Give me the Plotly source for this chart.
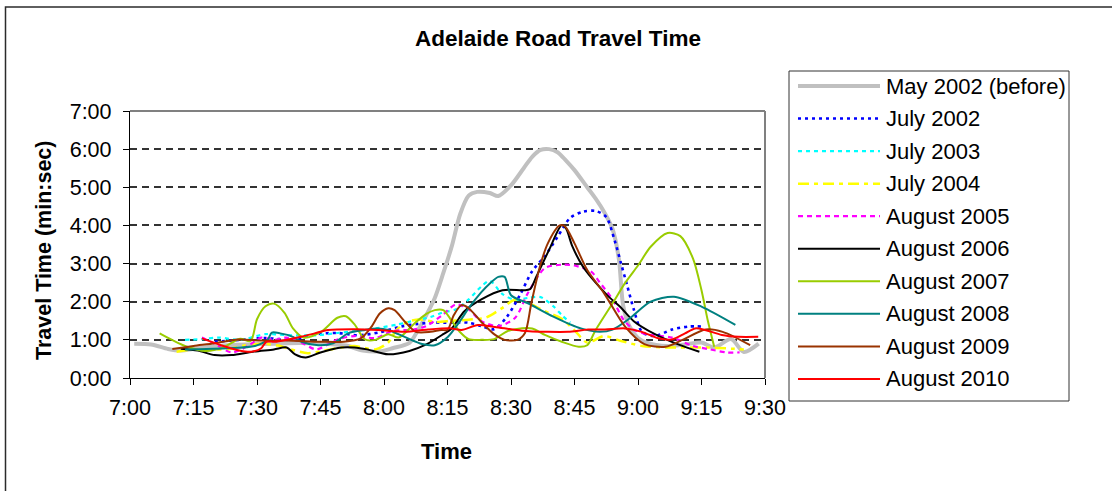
import plotly.graph_objects as go

# ---- data: minutes after 7:00 and travel time in minutes ----
series_names = [
    "May 2002 (before)", "July 2002", "July 2003", "July 2004", "August 2005",
    "August 2006", "August 2007", "August 2008", "August 2009", "August 2010",
]

may2002_t = [1, 5, 9, 12, 16, 22, 28, 34, 40, 46, 51, 55, 59, 62, 66, 68, 70, 72, 74, 76,
             78, 80, 82, 85, 87, 90, 93, 95, 97, 99, 101, 103, 105, 108, 110, 112, 114, 115.5,
             116.5, 118, 120, 122, 127, 131, 135, 138, 142, 145, 148.5]
may2002_v = [0.9, 0.88, 0.76, 0.72, 0.78, 0.85, 0.88, 0.9, 0.92, 0.9, 0.85, 0.72, 0.7, 0.78,
             0.92, 1.25, 1.65, 2.1, 2.75, 3.45, 4.3, 4.78, 4.88, 4.85, 4.77, 5.05, 5.5, 5.8,
             5.98, 6.0, 5.92, 5.7, 5.45, 5.0, 4.7, 4.35, 3.9, 3.1, 1.9, 1.35, 1.05, 0.93, 0.84,
             0.88, 0.93, 0.8, 1.02, 0.68, 0.9]

jul2002_t = [20, 26, 32, 38, 44, 49, 54, 59, 64, 68, 72, 76, 80, 83, 86, 89, 92, 95, 98, 101,
             104, 107, 110, 112.5, 114.5, 116, 117.5, 119, 121, 124, 128, 132, 135]
jul2002_v = [0.95, 1.0, 1.05, 1.0, 1.15, 1.18, 1.12, 1.2, 1.35, 1.42, 1.45, 1.45, 1.45, 1.36,
             1.28, 1.6, 2.15, 2.8, 3.2, 3.7, 4.2, 4.36, 4.38, 4.22, 3.6, 3.0, 2.4, 1.8, 1.2,
             1.1, 1.27, 1.35, 1.35]

jul2003_t = [13, 17, 21, 26, 32, 38, 44, 49, 53, 58, 63, 67, 71, 74, 77, 80, 83, 85, 88, 91,
             94, 97, 100, 102, 104]
jul2003_v = [1.0, 1.02, 1.06, 1.0, 1.15, 1.12, 1.12, 1.18, 1.23, 1.3, 1.4, 1.5, 1.6, 1.72,
             1.8, 2.06, 2.4, 2.55, 2.2, 2.05, 2.1, 2.12, 1.88, 1.65, 1.45]

jul2004_t = [11, 15, 19, 23, 27, 31, 35, 38, 42, 46, 50, 53, 58, 61, 63, 66, 69, 72, 76, 80,
             84, 88, 91, 94, 98, 102, 105, 108, 112, 116, 121, 127, 136, 142, 145]
jul2004_v = [0.69, 0.75, 0.75, 0.75, 0.85, 0.9, 0.85, 0.75, 0.65, 0.72, 0.8, 0.84, 0.75, 0.93,
             1.27, 1.49, 1.53, 1.47, 1.5, 1.53, 1.58, 1.84, 2.06, 1.97, 1.75, 1.55, 1.25, 0.93,
             1.1, 0.97, 0.84, 0.8, 0.8, 0.77, 0.75]

aug2005_t = [17, 20, 24, 28, 31, 34, 37, 41, 44, 49, 53, 58, 62, 67, 70, 74, 77, 80, 83, 87,
             91, 94, 98, 102, 105, 109, 111, 114, 116.5, 119, 122, 128, 133, 137, 141, 144]
aug2005_v = [1.06, 0.9, 0.67, 0.85, 1.06, 1.0, 1.06, 0.9, 0.75, 1.01, 1.1, 1.05, 1.23, 1.27,
             1.36, 1.67, 1.93, 1.8, 1.49, 1.36, 1.58, 2.23, 2.88, 2.97, 2.95, 2.78, 2.5, 2.06,
             1.54, 1.27, 1.15, 1.06, 0.84, 0.75, 0.67, 0.67]

aug2006_t = [12, 16, 20, 24, 29, 34, 37, 39, 41.5, 45, 50, 53, 56, 61, 66, 70, 74, 76, 79, 83,
             88, 93, 94.5, 96, 99, 102, 103, 104.5, 107, 110, 113, 116, 119, 124, 129.5, 134.5]
aug2006_v = [0.77, 0.72, 0.6, 0.6, 0.69, 0.75, 0.8, 0.62, 0.54, 0.67, 0.8, 0.8, 0.75, 0.62,
             0.71, 0.88, 1.15, 1.3, 1.75, 2.06, 2.3, 2.3, 2.33, 2.66, 3.36, 4.01, 3.92, 3.45,
             2.92, 2.5, 2.14, 1.84, 1.49, 1.15, 0.88, 0.69]

aug2007_t = [7, 13, 18, 22, 26, 28.5, 30, 32, 34, 36.5, 38.5, 41, 45, 49, 51, 53, 55.5, 58, 61,
             63.5, 67, 70, 72, 74, 76, 78, 80, 83, 86, 89, 91, 95, 98, 102, 106, 108, 110, 114,
             117, 120, 123, 127, 130, 133, 135, 136.5, 138]
aug2007_v = [1.17, 0.84, 0.71, 0.8, 1.03, 0.97, 1.54, 1.88, 1.95, 1.71, 1.3, 1.06, 1.2, 1.58,
             1.62, 1.41, 1.01, 1.0, 1.15, 1.06, 1.41, 1.68, 1.78, 1.78, 1.5, 1.2, 1.02, 1.0,
             1.02, 1.22, 1.28, 1.3, 1.13, 0.95, 0.82, 0.86, 1.26, 1.96, 2.5, 2.95, 3.44, 3.8,
             3.72, 3.13, 2.3, 1.5, 0.82]

aug2008_t = [13, 18, 23, 29.5, 32.5, 33.5, 35.5, 38.5, 40.5, 44.5, 48, 51.5, 55.5, 58.5, 61, 65,
             69, 72, 75, 78, 80, 83, 85, 87, 88.5, 90, 94, 100, 106.5, 111, 114, 118, 123,
             128.5, 135, 143]
aug2008_v = [0.75, 0.76, 0.78, 0.84, 1.0, 1.19, 1.17, 1.08, 0.95, 0.86, 0.91, 1.17, 1.26, 1.3,
             1.26, 1.07, 0.89, 0.86, 1.07, 1.5, 1.83, 2.25, 2.48, 2.65, 2.65, 2.17, 1.96, 1.61,
             1.3, 1.21, 1.27, 1.56, 2.0, 2.13, 1.87, 1.39]

aug2009_t = [10, 15, 20, 25.5, 31, 37, 45, 50.5, 54.5, 57, 59, 61, 62.5, 65, 67.5, 71, 73.5, 75,
             76.5, 78.3, 80, 83, 86, 88.5, 91.5, 93.3, 94.8, 96.8, 98.7, 101.5, 102.7, 105, 108,
             112, 117, 121.5, 126.5, 130.5, 136, 140, 146.5]
aug2009_v = [0.76, 0.84, 0.91, 1.01, 0.98, 0.98, 0.95, 0.95, 1.04, 1.34, 1.69, 1.83, 1.78, 1.47,
             1.21, 1.21, 1.26, 1.26, 1.65, 1.91, 1.83, 1.47, 1.15, 1.0, 1.0, 1.18, 1.96, 2.91,
             3.53, 4.0, 3.98, 3.53, 2.83, 2.22, 1.34, 0.89, 0.82, 1.0, 1.27, 1.21, 0.86]

aug2010_t = [17, 21.5, 25.5, 28.7, 31, 32.2, 34.2, 37.3, 40.4, 43.6, 46.8, 53, 58.6, 64.9, 70.4,
             75.9, 78.3, 82.2, 86.2, 92.5, 98.7, 103.5, 108.2, 112.2, 116.9, 120.9, 124.8, 128,
             131.1, 133.5, 135.8, 139.8, 143.7, 148.4]
aug2010_v = [1.04, 0.86, 0.73, 0.69, 0.78, 0.95, 0.95, 1.01, 1.08, 1.17, 1.26, 1.28, 1.26, 1.21,
             1.27, 1.3, 1.26, 1.39, 1.34, 1.24, 1.21, 1.21, 1.27, 1.27, 1.3, 1.21, 1.04, 1.01,
             1.17, 1.3, 1.26, 1.13, 1.08, 1.08]

time_ticks = ["7:00", "7:15", "7:30", "7:45", "8:00", "8:15", "8:30", "8:45", "9:00", "9:15", "9:30"]
travel_ticks = ["0:00", "1:00", "2:00", "3:00", "4:00", "5:00", "6:00", "7:00"]

# ---- styling ----
FONT = "Liberation Sans, Arial, sans-serif"
W, H = 1112, 491
L, R, T, B = 130, 347, 111, 113
PW, PH = W - L - R, H - T - B

styles = [
    dict(color="#C0C0C0", width=4, dash="solid"),
    dict(color="#0000FF", width=2.6, dash="3px,4px"),
    dict(color="#00FFFF", width=2.2, dash="4px,4px"),
    dict(color="#FFFF00", width=2.5, dash="11px,5px,4px,5px"),
    dict(color="#FF00FF", width=2.2, dash="5px,4px"),
    dict(color="#000000", width=2, dash="solid"),
    dict(color="#99CC00", width=2, dash="solid"),
    dict(color="#008080", width=2, dash="solid"),
    dict(color="#993300", width=2, dash="solid"),
    dict(color="#FF0000", width=2, dash="solid"),
]

data = [
    (may2002_t, may2002_v), (jul2002_t, jul2002_v), (jul2003_t, jul2003_v),
    (jul2004_t, jul2004_v), (aug2005_t, aug2005_v), (aug2006_t, aug2006_v),
    (aug2007_t, aug2007_v), (aug2008_t, aug2008_v), (aug2009_t, aug2009_v),
    (aug2010_t, aug2010_v),
]


def px_x(x):
    return (x - L) / PW


def px_y(y):
    return (H - B - y) / PH


fig = go.Figure()
for name, (t, v), st in zip(series_names, data, styles):
    fig.add_trace(go.Scatter(
        x=t, y=v, mode="lines", name=name, showlegend=False,
        line=dict(color=st["color"], width=st["width"], dash=st["dash"],
                  shape="spline", smoothing=0.8),
        hoverinfo="skip",
    ))

shapes = []
annotations = []

# outer chart frame
shapes.append(dict(type="rect", xref="paper", yref="paper",
                   x0=px_x(5.5), x1=px_x(1125), y0=px_y(505), y1=px_y(7),
                   line=dict(color="#2b2b2b", width=1.5), fillcolor="rgba(0,0,0,0)"))
# plot area top / right border
shapes.append(dict(type="line", xref="paper", yref="paper", x0=0, x1=1, y0=1, y1=1,
                   line=dict(color="#808080", width=2)))
shapes.append(dict(type="line", xref="paper", yref="paper", x0=1, x1=1, y0=0, y1=1,
                   line=dict(color="#808080", width=2)))

# legend box
shapes.append(dict(type="rect", xref="paper", yref="paper",
                   x0=px_x(789), x1=px_x(1069), y0=px_y(401), y1=px_y(71),
                   line=dict(color="#333333", width=1), fillcolor="white", layer="below"))
leg_top, leg_step = 86, 32.55
for i, (name, st) in enumerate(zip(series_names, styles)):
    yy = px_y(leg_top + i * leg_step)
    shapes.append(dict(type="line", xref="paper", yref="paper",
                       x0=px_x(798), x1=px_x(880), y0=yy, y1=yy,
                       line=dict(color=st["color"], width=st["width"], dash=st["dash"])))
    annotations.append(dict(text=name, xref="paper", yref="paper", x=px_x(884), y=yy,
                            xanchor="left", yanchor="middle", showarrow=False,
                            font=dict(family=FONT, size=22, color="black")))

# axis titles
annotations.append(dict(text="<b>Time</b>", xref="paper", yref="paper",
                        x=px_x(446), y=px_y(451), xanchor="center", yanchor="middle",
                        showarrow=False, font=dict(family=FONT, size=22, color="black")))
annotations.append(dict(text="<b>Travel Time (min:sec)</b>", xref="paper", yref="paper",
                        x=px_x(44), y=px_y(251), xanchor="center", yanchor="middle",
                        textangle=-90, showarrow=False,
                        font=dict(family=FONT, size=21.5, color="black")))

fig.update_layout(
    width=W, height=H,
    margin=dict(l=L, r=R, t=T, b=B),
    paper_bgcolor="white", plot_bgcolor="white",
    font=dict(family=FONT, size=21, color="black"),
    title=dict(text="<b>Adelaide Road Travel Time</b>", x=px_x(558), xanchor="center",
               xref="paper", y=1 - 38 / H, yref="container", yanchor="middle",
               font=dict(family=FONT, size=22.5, color="black")),
    shapes=shapes,
    annotations=annotations,
    showlegend=False,
)

fig.update_xaxes(
    range=[0, 150], tickvals=list(range(0, 151, 15)), ticktext=time_ticks,
    showgrid=False, zeroline=False, showline=True, linecolor="black", linewidth=1.3,
    ticks="outside", ticklen=6, tickcolor="black", tickwidth=1.3,
    tickfont=dict(family=FONT, size=21.5, color="black"), ticklabelstandoff=4,
)
fig.update_yaxes(
    range=[0, 7], tickvals=list(range(0, 8)), ticktext=travel_ticks,
    showgrid=True, gridcolor="#333333", gridwidth=1.5, griddash="7px,5px",
    zeroline=False, showline=True, linecolor="black", linewidth=1.3,
    ticks="outside", ticklen=6, tickcolor="black", tickwidth=1.3,
    tickfont=dict(family=FONT, size=21.5, color="black"), ticklabelstandoff=7,
)

fig.write_html("out.html")
